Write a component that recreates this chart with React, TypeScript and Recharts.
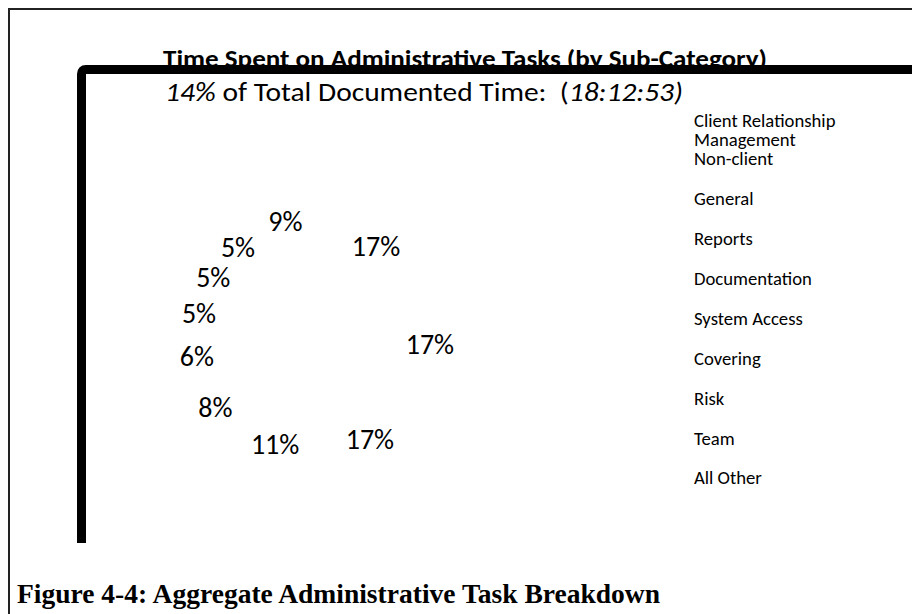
import React from 'react';
import { PieChart, Pie, Cell, Legend, Customized } from 'recharts';

// ---- data ----
const categories = [
  'Client Relationship Management',
  'Non-client',
  'General',
  'Reports',
  'Documentation',
  'System Access',
  'Covering',
  'Risk',
  'Team',
  'All Other',
];
const shares = [17, 17, 17, 11, 8, 6, 5, 5, 5, 9];
const titleText = 'Time Spent on Administrative Tasks (by Sub-Category)';
const subtitleShare = '14%';
const subtitleTime = '18:12:53)';
const captionText = 'Figure 4-4: Aggregate Administrative Task Breakdown';

const data = categories.map((name, i) => ({ name, value: shares[i] }));

// ---- layout ----
const W = 912;
const H = 614;
const CX = 320;
const CY = 341;
const R = 110;
const SANS = "Calibri, Carlito, 'Open Sans', sans-serif";
const SERIF = "'Times New Roman', 'Liberation Serif', serif";
const LEGEND_X = 694;
const LEGEND_BASELINES = [127, 165, 205, 245, 285, 325, 365, 405, 445, 484];
const LEGEND_LINE = 19;

function wrapLabel(label: string, max = 20): string[] {
  const words = label.split(' ');
  const lines: string[] = [];
  let cur = '';
  for (const w of words) {
    const next = cur ? cur + ' ' + w : w;
    if (next.length > max && cur) {
      lines.push(cur);
      cur = w;
    } else {
      cur = next;
    }
  }
  if (cur) lines.push(cur);
  return lines;
}

const renderLabel = (props: any) => {
  const { cx, cy, midAngle, value, outerRadius } = props;
  const r = value >= 15 ? outerRadius : value >= 10 ? outerRadius + 3 : outerRadius + 14;
  const rad = Math.PI / 180;
  const x = cx + r * Math.cos(-midAngle * rad);
  const y = cy + r * Math.sin(-midAngle * rad);
  return (
    <text
      x={x}
      y={y}
      textAnchor="middle"
      dominantBaseline="central"
      fontFamily={SANS}
      fontSize={28}
      fill="#000"
    >
      {`${value}%`}
    </text>
  );
};

const renderLegend = (props: any) => {
  const payload: any[] = props && props.payload && props.payload.length ? [...props.payload] : [];
  const names: string[] = payload.length
    ? payload
        .map((p: any) => String(p.value))
        .sort((a, b) => categories.indexOf(a) - categories.indexOf(b))
    : categories;
  return (
    <svg width={W} height={H} style={{ position: 'absolute', left: 0, top: 0 }}>
      {names.map((n, i) =>
        wrapLabel(n).map((line, j) => (
          <text
            key={`${i}-${j}`}
            x={LEGEND_X}
            y={LEGEND_BASELINES[i] + j * LEGEND_LINE}
            fontFamily={SANS}
            fontSize={18.7}
            fill="#000"
          >
            {line}
          </text>
        ))
      )}
    </svg>
  );
};

const Decorations = () => (
  <g>
    <path d={`M9,${H} L9,9 L${W},9`} fill="none" stroke="#222" strokeWidth={2} />
    <text
      x={163}
      y={67}
      fontFamily={SANS}
      fontWeight="bold"
      fontSize={25}
      textLength={604}
      lengthAdjust="spacingAndGlyphs"
      fill="#000"
    >
      {titleText}
    </text>
    <path
      d={`M81.5,543 L81.5,74 Q81.5,69.5 86,69.5 L${W},69.5`}
      fill="none"
      stroke="#000"
      strokeWidth={9}
      strokeLinejoin="round"
    />
    <text
      x={165}
      y={101}
      fontFamily={SANS}
      fontSize={26}
      textLength={518}
      lengthAdjust="spacingAndGlyphs"
      fill="#000"
      style={{ whiteSpace: 'pre' }}
    >
      <tspan fontStyle="italic">{subtitleShare}</tspan>
      {' of Total Documented Time:  ('}
      <tspan fontStyle="italic">{subtitleTime}</tspan>
    </text>
    <text
      x={17}
      y={603}
      fontFamily={SERIF}
      fontWeight="bold"
      fontSize={27}
      textLength={643}
      lengthAdjust="spacingAndGlyphs"
      fill="#000"
    >
      {captionText}
    </text>
  </g>
);

export default function App() {
  return (
    <div style={{ position: 'absolute', left: 0, top: 0, width: W, height: H, background: '#fff' }}>
      <PieChart width={W} height={H} margin={{ top: 0, right: 0, bottom: 0, left: 0 }}>
        <Pie
          data={data}
          dataKey="value"
          nameKey="name"
          cx={CX}
          cy={CY}
          outerRadius={R}
          startAngle={90}
          endAngle={-270}
          stroke="none"
          label={renderLabel}
          labelLine={false}
          isAnimationActive={false}
        >
          {data.map((d) => (
            <Cell key={d.name} fill="#ffffff" />
          ))}
        </Pie>
        <Legend
          content={renderLegend}
          wrapperStyle={{ position: 'absolute', left: 0, top: 0, width: W, height: H, pointerEvents: 'none' }}
        />
        <Customized component={Decorations} />
      </PieChart>
    </div>
  );
}
